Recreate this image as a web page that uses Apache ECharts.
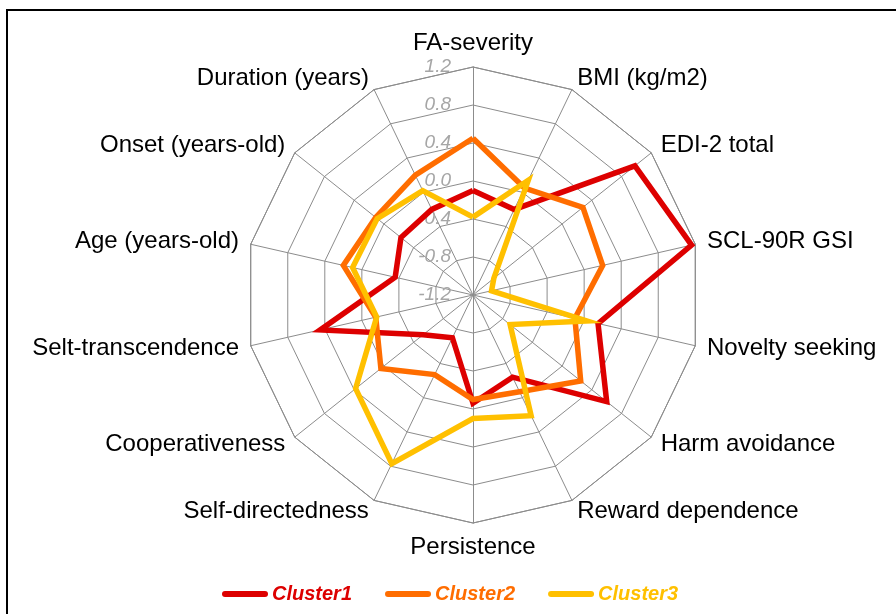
<!DOCTYPE html>
<html>
<head>
<meta charset="utf-8">
<script src="https://cdn.jsdelivr.net/npm/echarts@6/dist/echarts.min.js"></script>
<style>
    html, body { margin: 0; padding: 0; background: #fff; }
    #chart { width: 896px; height: 614px; }
</style>
</head>
<body>
<div id="chart"></div>
<script>
    // axes in clockwise order, starting at the top
    var axisNames = ['FA-severity', 'BMI (kg/m2)', 'EDI-2 total', 'SCL-90R GSI', 'Novelty seeking',
        'Harm avoidance', 'Reward dependence', 'Persistence', 'Self-directedness', 'Cooperativeness',
        'Selt-transcendence', 'Age (years-old)', 'Onset (years-old)', 'Duration (years)'];
    var cluster1 = [-0.10, -0.20, 0.98, 1.16, 0.15, 0.60, -0.24, -0.06, -0.70, -0.53, 0.45, -0.36, -0.23, -0.20];
    var cluster2 = [0.45, 0.05, 0.28, 0.20, -0.10, 0.25, -0.07, -0.10, -0.27, 0.04, -0.15, 0.20, 0.11, 0.20];
    var cluster3 = [-0.38, 0.14, -0.92, -1.00, 0.03, -0.70, 0.21, 0.10, 0.77, 0.38, -0.16, 0.10, 0.09, 0.02];
    var seriesNames = ['Cluster1', 'Cluster2', 'Cluster3'];
    var colors = ['#dd0000', '#ff6d00', '#ffc000'];
    var tickMin = -1.2, tickMax = 1.2, tickStep = 0.4;

    // echarts lays radar axes out counter-clockwise, so flip all but the first
    function cw(arr) {
        return [arr[0]].concat(arr.slice(1).reverse());
    }

    var font = 'Liberation Sans, Arial, sans-serif';
    var cx = 473, cy = 295, R = 228;

    var chart = echarts.init(document.getElementById('chart'));
    var allData = [cluster1, cluster2, cluster3];

    chart.setOption({
        backgroundColor: '#fff',
        textStyle: { fontFamily: font },
        graphic: [{
            type: 'rect',
            shape: { x: 7, y: 10, width: 920, height: 640 },
            style: { fill: 'none', stroke: '#000', lineWidth: 2 },
            silent: true
        }],
        legend: {
            left: 217,
            top: 579,
            itemWidth: 46,
            itemHeight: 6,
            itemGap: 33,
            icon: 'path://M3,0 H43 A3,3 0 0 1 43,6 H3 A3,3 0 0 1 3,0 Z',
            textStyle: { fontSize: 20, fontWeight: 'bold', fontStyle: 'italic', fontFamily: font, padding: [0, 0, 0, -1] },
            data: seriesNames.map(function (n, i) {
                return { name: n, textStyle: { color: colors[i] } };
            })
        },
        radar: {
            center: [cx, cy],
            radius: R,
            startAngle: 90,
            shape: 'polygon',
            splitNumber: 6,
            nameGap: 12,
            axisName: { color: '#000', fontSize: 24, fontFamily: font },
            axisLine: { lineStyle: { color: '#8c8c8c', width: 1 } },
            splitLine: { lineStyle: { color: '#8c8c8c', width: 1 } },
            splitArea: { show: false },
            indicator: cw(axisNames).map(function (n) {
                return { name: n, min: tickMin, max: tickMax };
            })
        },
        // polar only used to print the value labels along the top axis
        polar: { center: [cx, cy], radius: R },
        angleAxis: { show: false, startAngle: 90, min: 0, max: 360 },
        radiusAxis: {
            type: 'value',
            min: tickMin,
            max: tickMax,
            interval: tickStep,
            axisLine: { show: false },
            axisTick: { show: false },
            splitLine: { show: false },
            axisLabel: {
                margin: 22,
                color: '#a6a6a6',
                fontSize: 19,
                fontStyle: 'italic',
                fontFamily: font,
                showMinLabel: true,
                showMaxLabel: true,
                formatter: function (v) { return v.toFixed(1); }
            }
        },
        series: [{
            type: 'radar',
            symbol: 'none',
            data: allData.map(function (d, i) {
                return {
                    name: seriesNames[i],
                    value: cw(d),
                    itemStyle: { color: colors[i] },
                    lineStyle: { color: colors[i], width: 5.5, join: 'miter' }
                };
            })
        }]
    });
</script>
</body>
</html>
